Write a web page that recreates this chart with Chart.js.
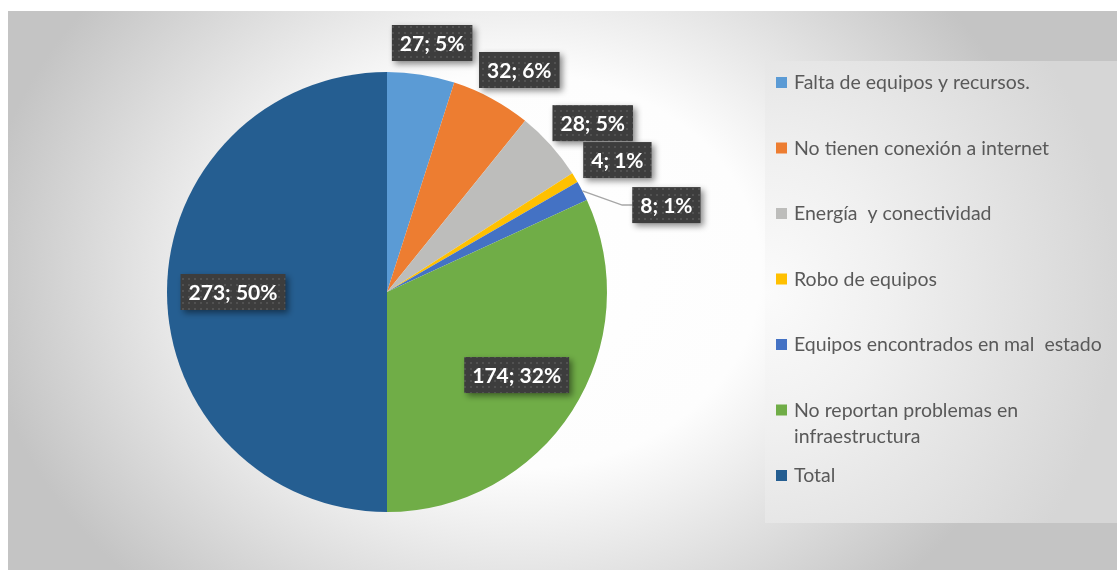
<!DOCTYPE html>
<html>
<head>
<meta charset="utf-8">
<script src="https://cdn.jsdelivr.net/npm/chart.js@4.4.1/dist/chart.umd.min.js"></script>
<style>
  body { margin: 0; background: #fff; }
  #frame {
    position: absolute; left: 8px; top: 11px; width: 1109px; height: 559px;
    background: radial-gradient(ellipse 540px 440px at 510px 260px, #ffffff 0%, #fdfdfd 45%, #c4c4c4 100%);
  }
  #legendBg {
    position: absolute; left: 765px; top: 61px; width: 352px; height: 462px;
    background: radial-gradient(ellipse 100% 85% at 0% 50%, #fbfbfb 0%, #f0f0f0 35%, #d6d6d6 100%);
  }
  canvas { position: absolute; left: 0; top: 0; }
</style>
</head>
<body>
<div id="frame"></div>
<div id="legendBg"></div>
<canvas id="chart" width="1117" height="570"></canvas>
<script>
const categories = [
  'Falta de equipos y recursos.',
  'No tienen conexión a internet',
  'Energía  y conectividad',
  'Robo de equipos',
  'Equipos encontrados en mal  estado',
  'No reportan problemas en infraestructura',
  'Total'
];
const values = [27, 32, 28, 4, 8, 174, 273];
const colors = ['#5b9bd5', '#ed7d31', '#bdbdbb', '#ffc000', '#4472c4', '#70ad47', '#255e91'];

// which labels sit inside the slice, and the one Excel pushed out with a leader line
const insideLabel = [false, false, false, false, false, true, true];
const labelNudge = { 4: { dx: 40, dy: 30 } };

function makeDots(ctx) {
  const c = document.createElement('canvas');
  c.width = 6; c.height = 6;
  const g = c.getContext('2d');
  g.fillStyle = '#3d3d3d';
  g.fillRect(0, 0, 6, 6);
  g.fillStyle = '#515151';
  g.fillRect(2, 2, 2, 2);
  return ctx.createPattern(c, 'repeat');
}

const dataLabels = {
  id: 'dataLabels',
  afterDatasetsDraw(chart) {
    const ctx = chart.ctx;
    const meta = chart.getDatasetMeta(0);
    const total = values.reduce((a, b) => a + b, 0);
    const dots = makeDots(ctx);
    ctx.save();
    ctx.font = 'bold 21px Lato';
    meta.data.forEach((arc, i) => {
      const text = values[i] + '; ' + Math.round(values[i] / total * 100) + '%';
      const mid = (arc.startAngle + arc.endAngle) / 2;
      const dx = Math.cos(mid), dy = Math.sin(mid);
      const w = ctx.measureText(text).width + 16, h = 36;
      let cx, cy;
      if (insideLabel[i]) {
        cx = arc.x + dx * arc.outerRadius * 0.7;
        cy = arc.y + dy * arc.outerRadius * 0.7;
      } else {
        const r = arc.outerRadius + 12;
        cx = arc.x + dx * r + dx * w / 2 + 3;
        cy = arc.y + dy * r + dy * h / 2 - 2;
      }
      const nudge = labelNudge[i];
      if (nudge) {
        const ex = arc.x + dx * arc.outerRadius, ey = arc.y + dy * arc.outerRadius;
        cx += nudge.dx; cy += nudge.dy;
        ctx.strokeStyle = '#a6a6a6';
        ctx.lineWidth = 1.5;
        ctx.beginPath();
        ctx.moveTo(ex, ey);
        ctx.lineTo(cx - w / 2 - 10, cy);
        ctx.lineTo(cx - w / 2, cy);
        ctx.stroke();
      }
      ctx.save();
      ctx.shadowColor = 'rgba(0,0,0,0.45)';
      ctx.shadowBlur = 6;
      ctx.shadowOffsetX = 3;
      ctx.shadowOffsetY = 3;
      ctx.fillStyle = dots;
      ctx.fillRect(cx - w / 2, cy - h / 2, w, h);
      ctx.restore();
      ctx.fillStyle = '#ffffff';
      ctx.textAlign = 'center';
      ctx.textBaseline = 'middle';
      ctx.fillText(text, cx, cy + 1);
    });
    ctx.restore();
  }
};

const sideLegend = {
  id: 'sideLegend',
  afterDraw(chart) {
    const ctx = chart.ctx;
    const left = 776, top = 83, step = 65.5, maxW = 318;
    ctx.save();
    ctx.font = '19.5px Lato';
    ctx.textBaseline = 'middle';
    categories.forEach((label, i) => {
      const y = top + i * step;
      ctx.fillStyle = colors[i];
      ctx.fillRect(left, y - 6, 11, 11);
      // wrap words to the legend width
      const words = label.split(' ');
      const lines = [];
      let line = '';
      words.forEach(word => {
        const test = line === '' ? word : line + ' ' + word;
        if (ctx.measureText(test).width > maxW && line !== '') {
          lines.push(line.trimEnd());
          line = word;
        } else {
          line = test;
        }
      });
      lines.push(line);
      ctx.fillStyle = '#595959';
      lines.forEach((l, k) => ctx.fillText(l, left + 18, y + k * 26));
    });
    ctx.restore();
  }
};

new Chart(document.getElementById('chart'), {
  type: 'pie',
  data: {
    labels: categories,
    datasets: [{
      data: values,
      backgroundColor: colors,
      borderWidth: 0
    }]
  },
  options: {
    responsive: false,
    animation: false,
    layout: { padding: { left: 167, right: 510, top: 72, bottom: 58 } },
    plugins: {
      legend: { display: false },
      tooltip: { enabled: false }
    }
  },
  plugins: [dataLabels, sideLegend]
});
</script>
</body>
</html>
